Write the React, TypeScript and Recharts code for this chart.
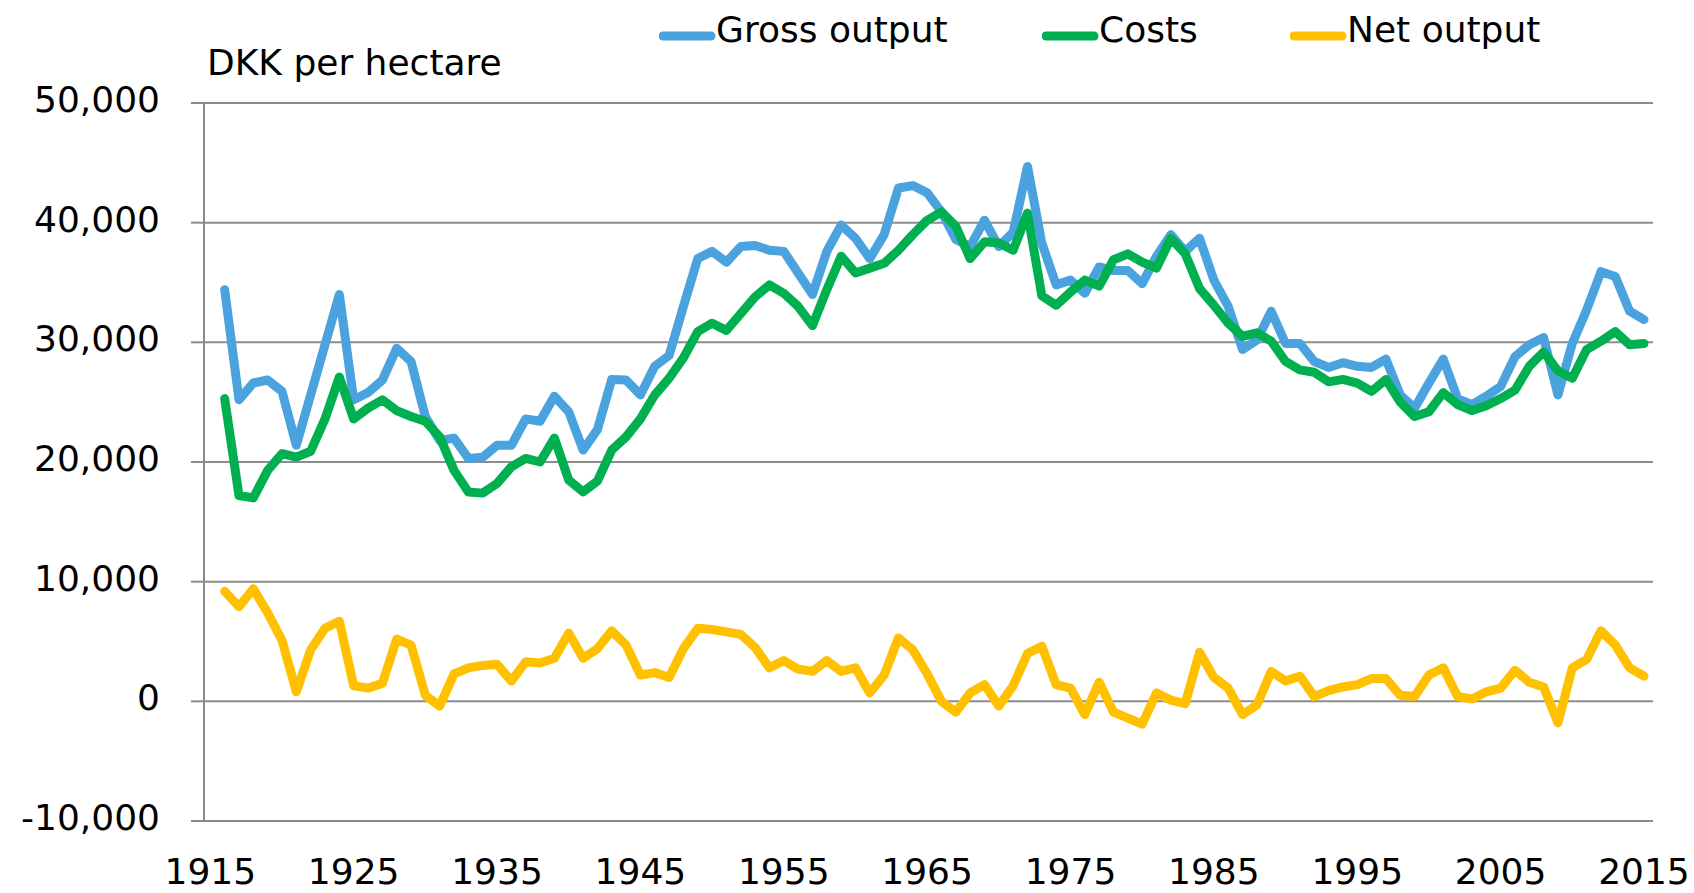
import React from 'react';
import { LineChart, Line, XAxis, YAxis, CartesianGrid, Legend } from 'recharts';

const years = [
  1916, 1917, 1918, 1919, 1920, 1921, 1922, 1923, 1924, 1925,
  1926, 1927, 1928, 1929, 1930, 1931, 1932, 1933, 1934, 1935,
  1936, 1937, 1938, 1939, 1940, 1941, 1942, 1943, 1944, 1945,
  1946, 1947, 1948, 1949, 1950, 1951, 1952, 1953, 1954, 1955,
  1956, 1957, 1958, 1959, 1960, 1961, 1962, 1963, 1964, 1965,
  1966, 1967, 1968, 1969, 1970, 1971, 1972, 1973, 1974, 1975,
  1976, 1977, 1978, 1979, 1980, 1981, 1982, 1983, 1984, 1985,
  1986, 1987, 1988, 1989, 1990, 1991, 1992, 1993, 1994, 1995,
  1996, 1997, 1998, 1999, 2000, 2001, 2002, 2003, 2004, 2005,
  2006, 2007, 2008, 2009, 2010, 2011, 2012, 2013, 2014, 2015,
];

const grossOutput = [
  34400, 25200, 26600, 26850, 25900, 21400, 25600, 29800, 34000, 25200,
  25800, 26850, 29500, 28400, 23800, 21800, 22000, 20300, 20400, 21400,
  21400, 23600, 23400, 25500, 24200, 21000, 22700, 26900, 26850, 25600,
  28000, 28900, 33000, 37000, 37600, 36700, 38000, 38100, 37700, 37600,
  35800, 34000, 37600, 39800, 38700, 37000, 39000, 42900, 43100, 42500,
  40900, 38600, 38000, 40200, 38000, 39200, 44700, 38300, 34800, 35200,
  34100, 36300, 36000, 36000, 34900, 37200, 39000, 37600, 38700, 35200,
  33000, 29400, 30200, 32600, 29900, 29900, 28400, 27900, 28300, 28000,
  27900, 28600, 25600, 24500, 26600, 28600, 25300, 24800, 25500, 26300,
  28800, 29800, 30400, 25600, 29900, 32700, 35900, 35500, 32600, 31900,
];

const costs = [
  25300, 17200, 17000, 19300, 20700, 20400, 20900, 23600, 27100, 23600,
  24500, 25200, 24300, 23800, 23400, 22100, 19300, 17500, 17400, 18200,
  19600, 20300, 20000, 22000, 18500, 17500, 18400, 21000, 22100, 23600,
  25600, 27000, 28700, 30900, 31600, 31000, 32400, 33800, 34800, 34100,
  33000, 31400, 34400, 37200, 35800, 36200, 36600, 37700, 39000, 40200,
  40900, 39700, 37000, 38400, 38300, 37700, 40800, 33900, 33100, 34200,
  35200, 34700, 36900, 37400, 36700, 36200, 38700, 37400, 34500, 33100,
  31600, 30500, 30800, 30100, 28400, 27700, 27500, 26700, 26900, 26600,
  25900, 26900, 25000, 23800, 24200, 25800, 24800, 24300, 24700, 25300,
  26000, 28000, 29200, 27600, 27000, 29400, 30100, 30900, 29800, 29900,
];

const netOutput = [
  9200, 7900, 9400, 7400, 5100, 800, 4300, 6100, 6700, 1300,
  1100, 1500, 5200, 4700, 500, -400, 2300, 2800, 3000, 3100,
  1700, 3300, 3200, 3600, 5700, 3600, 4400, 5900, 4700, 2200,
  2400, 2000, 4400, 6100, 6000, 5800, 5600, 4500, 2800, 3400,
  2700, 2500, 3400, 2500, 2800, 700, 2200, 5300, 4300, 2300,
  0, -900, 700, 1400, -400, 1300, 4000, 4600, 1400, 1100,
  -1100, 1600, -900, -1400, -1900, 700, 100, -200, 4100, 2000,
  1100, -1100, -300, 2500, 1700, 2100, 400, 900, 1200, 1400,
  1900, 1900, 500, 400, 2200, 2800, 400, 200, 800, 1100,
  2600, 1600, 1200, -1800, 2800, 3500, 5900, 4700, 2800, 2100,
];

const xTicks = [1915, 1925, 1935, 1945, 1955, 1965, 1975, 1985, 1995, 2005, 2015];
const yTicks = [-10000, 0, 10000, 20000, 30000, 40000, 50000];
const seriesKeys = ['gross', 'costs', 'net'];
const seriesNames = ['Gross output', 'Costs', 'Net output'];
const seriesColors = ['#4AA3DF', '#00B050', '#FFC000'];
const axisTitle = 'DKK per hectare';

const data = years.map((year, i) => ({
  year,
  gross: grossOutput[i],
  costs: costs[i],
  net: netOutput[i],
}));

const FONT = '"DejaVu Sans", Verdana, sans-serif';
const GRID = '#8C8C8C';
const legendLeft = [659, 1042, 1290];

const fmt = (v: number) => v.toLocaleString('en-US');

const YTick = (props: any) => {
  const { x, y, payload } = props;
  return (
    <text x={x} y={y + 9} textAnchor="end" fontSize={36} fontFamily={FONT} fill="#000">
      {fmt(payload.value)}
    </text>
  );
};

const XTick = (props: any) => {
  const { x, y, payload } = props;
  return (
    <text x={x} y={y + 63} textAnchor="middle" fontSize={36} fontFamily={FONT} fill="#000">
      {payload.value}
    </text>
  );
};

const AxisTitle = () => (
  <text x={207} y={75} fontSize={36} fontFamily={FONT} fill="#000">
    {axisTitle}
  </text>
);

const renderLegend = () => (
  <div style={{ position: 'relative', height: 0, fontFamily: FONT, fontSize: 36, color: '#000' }}>
    {seriesNames.map((name, i) => (
      <div
        key={name}
        style={{
          position: 'absolute',
          left: legendLeft[i],
          top: 12,
          display: 'flex',
          alignItems: 'flex-start',
          lineHeight: '36px',
          whiteSpace: 'nowrap',
        }}
      >
        <svg width={57} height={10} style={{ marginTop: 19, display: 'block' }}>
          <line x1={4} y1={5} x2={52} y2={5} stroke={seriesColors[i]} strokeWidth={9} strokeLinecap="round" />
        </svg>
        <span>{name}</span>
      </div>
    ))}
  </div>
);

export default function App() {
  return (
    <div style={{ position: 'absolute', left: 0, top: 0, width: 1694, height: 893, background: '#fff' }}>
      <LineChart width={1694} height={893} data={data} margin={{ top: 103, right: 41, bottom: 0, left: 0 }}>
        <CartesianGrid vertical={false} stroke={GRID} strokeWidth={2} />
        <XAxis
          dataKey="year"
          type="number"
          domain={[1914.56, 2015.63]}
          ticks={xTicks}
          tick={XTick}
          tickLine={false}
          axisLine={false}
          tickSize={0}
          tickMargin={0}
          height={72}
          interval={0}
          allowDataOverflow
        />
        <YAxis
          domain={[-10000, 50000]}
          ticks={yTicks}
          tick={YTick}
          tickSize={13}
          tickMargin={31}
          width={204}
          interval={0}
          axisLine={{ stroke: GRID, strokeWidth: 2 }}
          tickLine={{ stroke: GRID, strokeWidth: 2 }}
          label={<AxisTitle />}
          allowDataOverflow
        />
        <Legend
          verticalAlign="top"
          content={renderLegend}
          wrapperStyle={{ position: 'absolute', top: 0, left: 0, width: 1694, height: 0, margin: 0 }}
        />
        {seriesKeys.map((k, i) => (
          <Line
            key={k}
            type="linear"
            dataKey={k}
            name={seriesNames[i]}
            stroke={seriesColors[i]}
            strokeWidth={9}
            strokeLinecap="round"
            strokeLinejoin="round"
            dot={false}
            activeDot={false}
            isAnimationActive={false}
          />
        ))}
      </LineChart>
    </div>
  );
}
